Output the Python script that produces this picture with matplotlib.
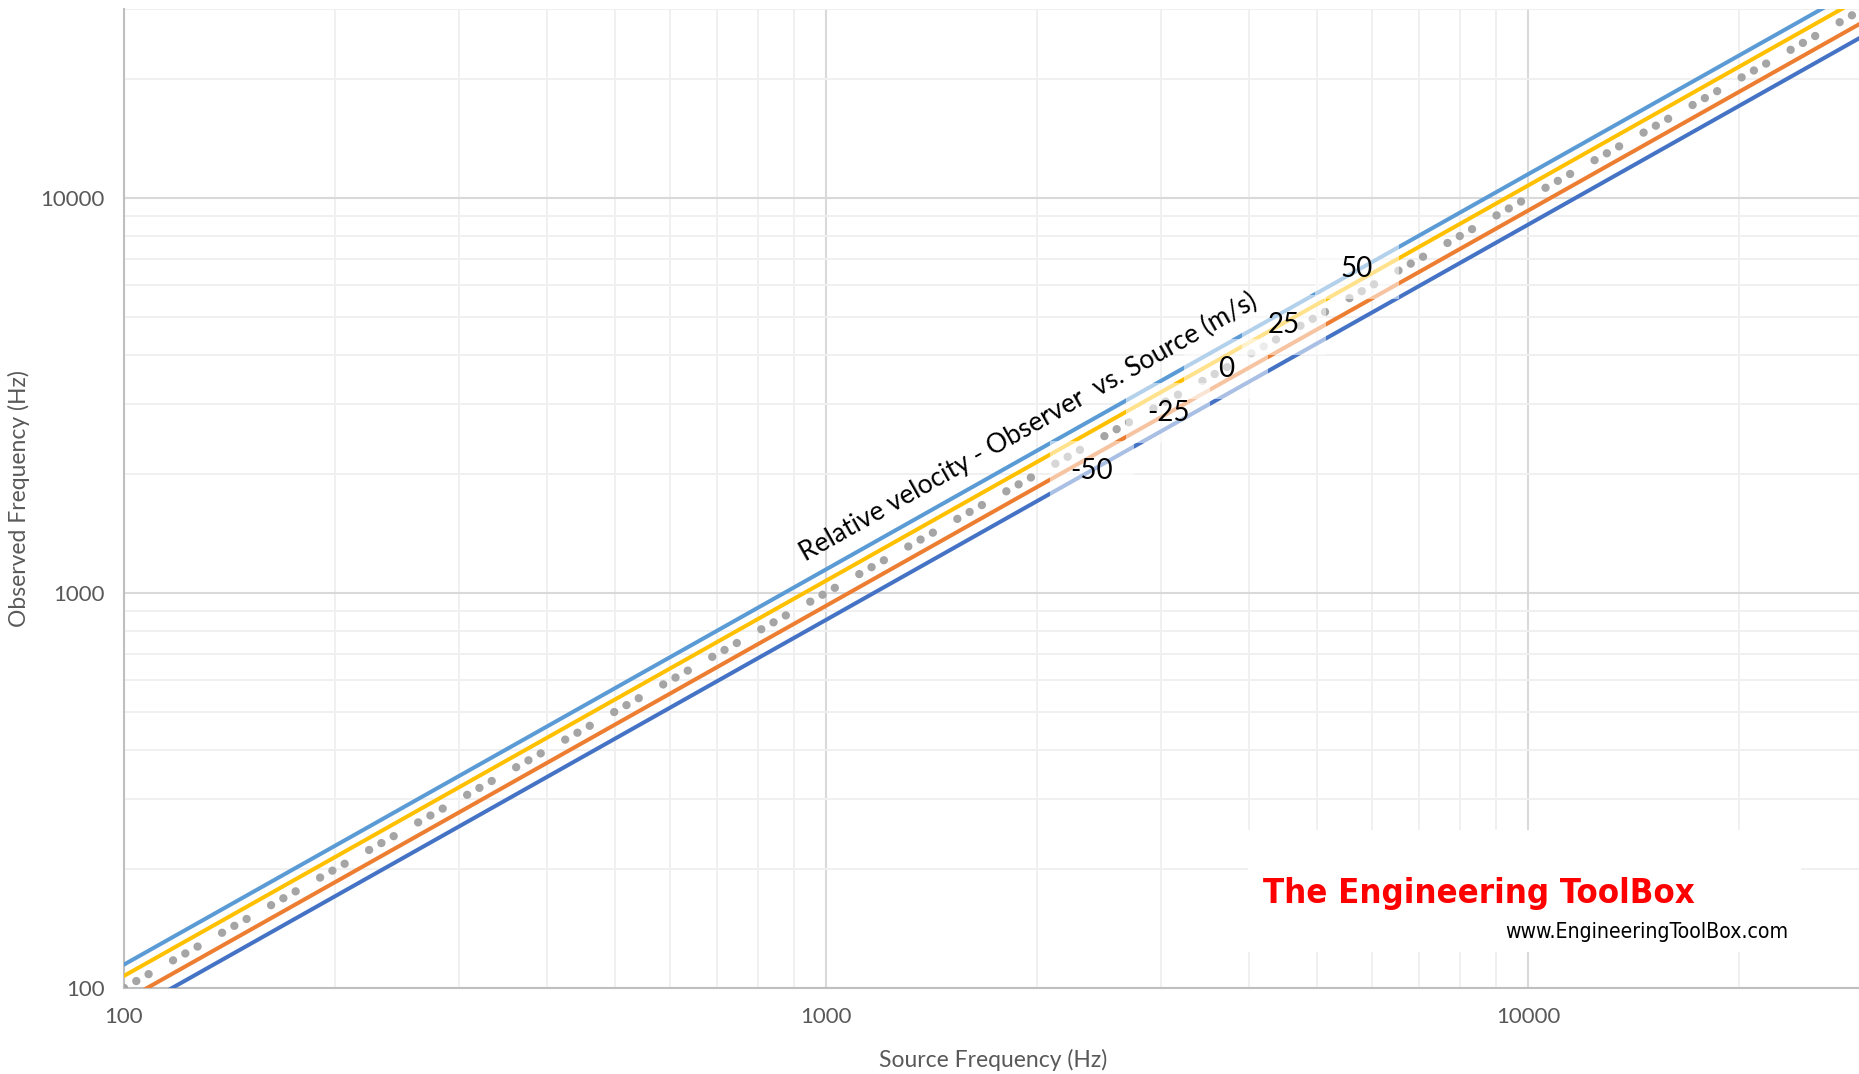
import matplotlib
matplotlib.use('Agg')
import matplotlib.pyplot as plt
from matplotlib import font_manager
from matplotlib.patches import Rectangle
from matplotlib.transforms import ScaledTranslation
from matplotlib.ticker import FixedLocator, NullFormatter, LogLocator

plt.rcParams['font.family'] = ['Lato', 'DejaVu Sans']

# source frequency (Hz) and observed frequency (Hz) for each relative velocity (m/s)
source_freq = [100, 1000, 10000, 30000]
velocities = [-50, -25, 0, 25, 50]
observed_m50 = [85.4, 854, 8542, 25627]
observed_m25 = [92.7, 927, 9271, 27813]
observed_0 = [100, 1000, 10000, 30000]
observed_p25 = [107.3, 1073, 10729, 32187]
observed_p50 = [114.6, 1146, 11458, 34373]

series_colors = ['#4472C4', '#ED7D31', '#A5A5A5', '#FFC000', '#5B9BD5']

# label anchor points (source, observed) for the velocity annotations
label_x = [2392, 3070, 3714, 4491, 5705]
label_y = [2030, 2850, 3690, 4770, 6600]


def narrow_font(bold):
    """Pick an upright condensed/narrow font if one is installed."""
    for f in font_manager.fontManager.ttflist:
        name = f.name + ' ' + str(f.stretch)
        is_bold = f.weight in ('bold', 700)
        if ('Narrow' in name or 'ondensed' in name) and is_bold == bold \
                and f.style == 'normal':
            return font_manager.FontProperties(fname=f.fname)
    return font_manager.FontProperties(family='Liberation Sans',
                                       weight='bold' if bold else 'normal')


def fit_width(txt, width_px, renderer):
    bb = txt.get_window_extent(renderer=renderer)
    txt.set_fontsize(txt.get_fontsize() * width_px / bb.width)


fig = plt.figure(figsize=(18.59, 10.74), dpi=100)
ax = fig.add_axes([0.0667, 0.0801, 0.9355, 0.9115])
ax.set_xscale('log')
ax.set_yscale('log')
ax.set_xlim(100, 30000)
ax.set_ylim(100, 30000)

# grid
for axis in (ax.xaxis, ax.yaxis):
    axis.set_major_locator(FixedLocator([100, 1000, 10000]))
    axis.set_minor_locator(LogLocator(base=10, subs=range(2, 10)))
    axis.set_minor_formatter(NullFormatter())
ax.grid(True, which='major', color='#D9D9D9', lw=1.5)
ax.grid(True, which='minor', color='#F0F0F0', lw=1.4)
ax.set_axisbelow(True)

for s in ('top', 'right'):
    ax.spines[s].set_visible(False)
for s in ('left', 'bottom'):
    ax.spines[s].set_color('#BFBFBF')
    ax.spines[s].set_linewidth(1.5)

ax.tick_params(which='both', length=0)
ax.tick_params(axis='x', pad=14, labelsize=16, labelcolor='#595959')
ax.tick_params(axis='y', pad=14, labelsize=16, labelcolor='#595959')
ax.set_xticklabels(['100', '1000', '10000'])
ax.set_yticklabels(['100', '1000', '10000'])

ax.set_xlabel('Source Frequency (Hz)', fontsize=16.5, color='#595959')
ax.set_ylabel('Observed Frequency (Hz)', fontsize=16.5, color='#595959')
ax.xaxis.set_label_coords(0.5, -0.062)
ax.yaxis.set_label_coords(-0.054, 0.5)

# series
all_obs = [observed_m50, observed_m25, observed_0, observed_p25, observed_p50]
for i, (obs, col) in enumerate(zip(all_obs, series_colors)):
    if velocities[i] == 0:
        ax.plot(source_freq, obs, color=col, lw=6.0, dash_capstyle='round',
                linestyle=(0, (0.01, 1.68, 0.01, 1.68, 0.01, 3.36)), zorder=3)
    else:
        ax.plot(source_freq, obs, color=col, lw=2.9, zorder=3)

# velocity labels with translucent white boxes
for v, lx, ly in zip(velocities, label_x, label_y):
    tr = fig.dpi_scale_trans + ScaledTranslation(lx, ly, ax.transData)
    ax.add_patch(Rectangle((-0.42, -0.30), 0.84, 0.60, transform=tr,
                           facecolor='white', edgecolor='none', alpha=0.55,
                           zorder=4, clip_on=False))
    ax.text(lx, ly, str(v), fontsize=20, color='black', ha='center', va='center',
            zorder=5)

ax.text(936, 1198, 'Relative velocity - Observer  vs. Source (m/s)', fontsize=19,
        rotation=29.4, rotation_mode='anchor', ha='left', va='baseline',
        color='black', zorder=5)

# watermark
ax.add_patch(Rectangle((1248 / 1859, 1 - 952 / 1074), 553 / 1859, 122 / 1074,
                       transform=fig.transFigure, facecolor='white',
                       edgecolor='none', zorder=6, clip_on=False))
brand = fig.text(1263 / 1859, 1 - 903 / 1074, 'The Engineering ToolBox',
                 color='#FF0000', fontsize=30, ha='left', va='baseline',
                 fontproperties=narrow_font(True), zorder=7)
url = fig.text(1788 / 1859, 1 - 938 / 1074, 'www.EngineeringToolBox.com',
               color='black', fontsize=16, ha='right', va='baseline',
               fontproperties=narrow_font(False), zorder=7)
renderer = fig.canvas.get_renderer()
fit_width(brand, 430, renderer)
fit_width(url, 285, renderer)

fig.savefig('out.png', dpi=100)
